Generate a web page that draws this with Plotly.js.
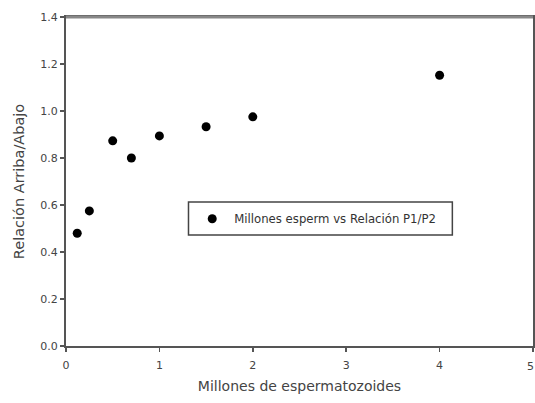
<!DOCTYPE html>
<html><head><meta charset="utf-8">
<script src="https://cdn.plot.ly/plotly-3.0.1.min.js"></script>
<style>html,body{margin:0;padding:0;background:#fff;}#chart{width:535px;height:403px;}</style>
</head><body><div id="chart"></div>
<script>
const xValues = [0.12, 0.25, 0.5, 0.7, 1.0, 1.5, 2.0, 4.0];
const yValues = [0.48, 0.575, 0.873, 0.80, 0.894, 0.933, 0.975, 1.152];
const seriesName = "Millones esperm vs Relación P1/P2";
const xTicks = [0, 1, 2, 3, 4, 5];
const yTicks = [0, 0.2, 0.4, 0.6, 0.8, 1.0, 1.2, 1.4];

const trace = {
  x: xValues, y: yValues, type: 'scatter', mode: 'markers', name: seriesName,
  marker: {color: '#000', size: 9}, cliponaxis: false
};
const fontFam = 'DejaVu Sans, Liberation Sans, Arial, sans-serif';
const tickFont = {family: fontFam, size: 11, color: '#444'};
const lastX = xTicks[xTicks.length - 1];
const layout = {
  width: 535, height: 403,
  margin: {l: 66, r: 2, t: 17, b: 57},
  paper_bgcolor: '#fff', plot_bgcolor: '#fff',
  showlegend: true,
  legend: {x: 0.266, y: 0.431, xanchor: 'left', yanchor: 'top', itemwidth: 34,
    borderwidth: 0, bgcolor: 'rgba(0,0,0,0)',
    font: {family: fontFam, size: 11.7, color: '#333'}},
  xaxis: {range: [0, 5], tickvals: xTicks, ticktext: xTicks.map(String),
    showgrid: false, zeroline: false, showline: true, linecolor: '#555', linewidth: 2,
    mirror: true, ticks: 'outside', ticklen: 4, tickcolor: '#555', tickwidth: 1.5,
    ticklabelstandoff: 4,
    tickfont: tickFont,
    title: {text: 'Millones de espermatozoides', standoff: 10, font: {family: fontFam, size: 14, color: '#444'}}},
  yaxis: {range: [0, 1.4], tickvals: yTicks, ticktext: yTicks.map(v => v.toFixed(1)),
    showgrid: false, zeroline: false, showline: true, linecolor: '#555', linewidth: 2,
    mirror: true, ticks: 'outside', ticklen: 4, tickcolor: '#555', tickwidth: 1.5,
    tickfont: tickFont,
    title: {text: 'Relación Arriba/Abajo', standoff: 12, font: {family: fontFam, size: 14.5, color: '#444'}}},
  annotations: [
    {xref: 'x', yref: 'paper', x: lastX, y: 0, yanchor: 'top', xanchor: 'center', yshift: -12, xshift: -3,
      text: String(lastX), showarrow: false, font: tickFont}
  ],
  shapes: [
    {type: 'line', xref: 'paper', yref: 'paper', x0: 0, x1: 1, y0: 1, y1: 1,
      line: {color: '#888', width: 3}},
    {type: 'rect', xref: 'paper', yref: 'paper', x0: 0.2623, x1: 0.8273, y0: 0.3374, y1: 0.4377,
      line: {color: '#444', width: 1.5}, fillcolor: '#fff', layer: 'below'}
  ]
};
Plotly.newPlot('chart', [trace], layout, {staticPlot: true, displayModeBar: false});
</script></body></html>
